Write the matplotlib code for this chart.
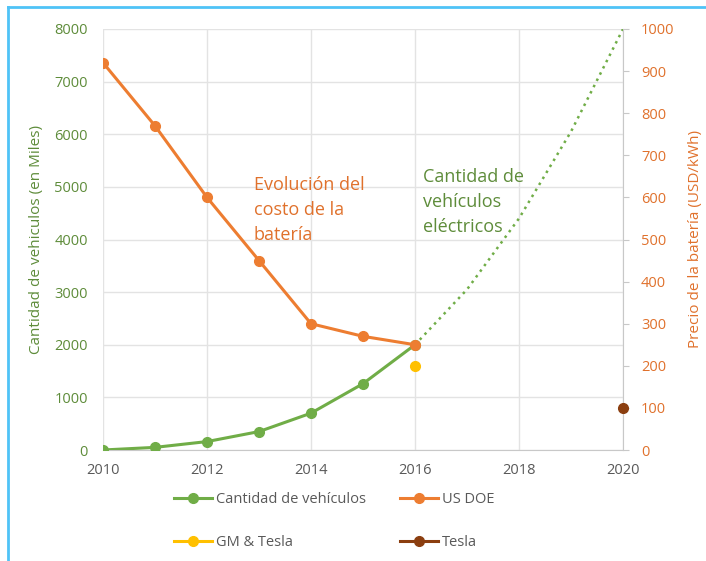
import matplotlib
matplotlib.use("Agg")
import matplotlib.pyplot as plt
from matplotlib.lines import Line2D

plt.rcParams['font.family'] = ['Open Sans', 'DejaVu Sans']

years_veh = [2010, 2011, 2012, 2013, 2014, 2015, 2016]
vehicles = [0, 50, 160, 350, 700, 1260, 2000]
years_proj = [2016, 2017, 2018, 2019, 2020]
vehicles_proj = [2000, 3050, 4400, 6050, 8000]
years_doe = [2010, 2011, 2012, 2013, 2014, 2015, 2016]
price_doe = [920, 770, 600, 450, 300, 270, 250]
years_gm = [2016]
price_gm = [200]
years_tesla = [2020]
price_tesla = [100]

GREEN = '#70AD47'
ORANGE = '#ED7D31'
YELLOW = '#FFC000'
BROWN = '#8B3E0F'
GREEN_TXT = '#5E8C3A'
ORANGE_TXT = '#E0712C'
GREY_TXT = '#595959'
GRID = '#E3E3E3'

fig = plt.figure(figsize=(7.06, 5.61), dpi=100)
ax = fig.add_axes([103/706, 1-450/561, (623-103)/706, (450-29)/561])
ax2 = ax.twinx()

ax.set_xlim(2010, 2020)
ax.set_ylim(0, 8000)
ax2.set_ylim(0, 1000)
ax.set_xticks([2010, 2012, 2014, 2016, 2018, 2020])
ax.set_yticks(range(0, 8001, 1000))
ax2.set_yticks(range(0, 1001, 100))

ax.grid(True, color=GRID, lw=1)
ax.set_axisbelow(True)
for a in (ax, ax2):
    for s in ('top', 'left', 'right', 'bottom'):
        a.spines[s].set_visible(False)
ax.spines['bottom'].set_visible(True)
ax.spines['bottom'].set_color('#C8C8C8')
ax2.spines['right'].set_visible(True)
ax2.spines['right'].set_color('#C8C8C8')

ax.tick_params(axis='y', length=0, colors=GREEN_TXT, labelsize=10.5, pad=11)
ax.tick_params(axis='x', length=0, colors=GREY_TXT, labelsize=10.5, pad=9)
ax2.tick_params(axis='y', length=4, color='#C8C8C8', labelcolor=ORANGE_TXT, labelsize=10.5, pad=9)

ax.plot(years_proj, vehicles_proj, ls=(0, (1, 1.8)), color=GREEN, lw=1.8, zorder=2)
ax.plot(years_veh, vehicles, '-o', color=GREEN, lw=2.2, ms=7, zorder=3)
ax2.plot(years_doe, price_doe, '-o', color=ORANGE, lw=2.2, ms=7, zorder=3)
ax2.plot(years_gm, price_gm, 'o', color=YELLOW, ms=7, zorder=3, clip_on=False)
ax2.plot(years_tesla, price_tesla, 'o', color=BROWN, ms=7, zorder=3, clip_on=False)

ax.set_ylabel('Cantidad de vehiculos (en Miles)', color=GREEN_TXT, fontsize=11, labelpad=7)
ax2.set_ylabel('Precio de la batería (USD/kWh)', color=ORANGE_TXT, fontsize=11, labelpad=10)

ax.text(2012.9, 5215, 'Evolución del\ncosto de la\nbatería', color=ORANGE_TXT,
        fontsize=13, va='top', ha='left', linespacing=1.5)
ax.text(2016.15, 5350, 'Cantidad de\nvehículos\neléctricos', color=GREEN_TXT,
        fontsize=13, va='top', ha='left', linespacing=1.5)

handles = [
    Line2D([], [], color=GREEN, marker='o', lw=2.2, ms=7),
    Line2D([], [], color=YELLOW, marker='o', lw=2.2, ms=7),
    Line2D([], [], color=ORANGE, marker='o', lw=2.2, ms=7),
    Line2D([], [], color=BROWN, marker='o', lw=2.2, ms=7),
]
labels = ['Cantidad de vehículos', 'GM & Tesla', 'US DOE', 'Tesla']
leg = fig.legend(handles, labels, ncol=2, loc='center left',
                 bbox_to_anchor=(174/706, 1-521/561),
                 frameon=False, fontsize=10.5, labelspacing=1.9, columnspacing=2.3,
                 handlelength=2.6, handletextpad=0.3, borderpad=0, borderaxespad=0)
for t in leg.get_texts():
    t.set_color(GREY_TXT)

# border (top and left visible)
fig.add_artist(Line2D([8/706, 8/706], [0, 1-7/561], transform=fig.transFigure, color='#4FC3F7', lw=2))
fig.add_artist(Line2D([8/706, 1], [1-7/561, 1-7/561], transform=fig.transFigure, color='#4FC3F7', lw=2))

fig.savefig('out.png', dpi=100)
